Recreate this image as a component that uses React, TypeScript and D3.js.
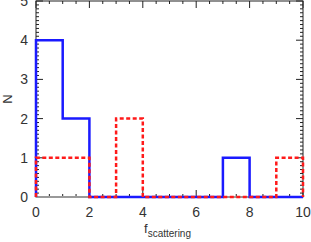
import React, { useEffect, useRef } from "react";
import * as d3 from "d3";

const binEdges = [0, 1, 2, 3, 4, 5, 6, 7, 8, 9, 10];
const blueCounts = [4, 2, 0, 0, 0, 0, 0, 1, 0, 0];
const redCounts = [1, 1, 0, 2, 0, 0, 0, 0, 0, 1];
const xTicks = [0, 2, 4, 6, 8, 10];
const yTicks = [0, 1, 2, 3, 4, 5];

const App = () => {
  const svgRef = useRef<SVGSVGElement>(null);

  useEffect(() => {
    const W = 311,
      H = 242;
    const margin = { top: 1, right: 8, bottom: 45, left: 36 };
    const width = W - margin.left - margin.right,
      height = H - margin.top - margin.bottom;

    const root = d3.select(svgRef.current).attr("width", W).attr("height", H);
    root.selectAll("*").remove();
    const svg = root
      .append("g")
      .attr("transform", `translate(${margin.left},${margin.top})`);

    const x = d3.scaleLinear().domain([0, 10]).range([0, width]);
    const y = d3.scaleLinear().domain([0, 5]).range([height, 0]);

    const font = "'Liberation Sans', Arial, sans-serif";
    const axisColor = "#222";

    // minor + major ticks, pointing inward on all four sides
    const xMinor = d3.range(0, 10.001, 0.5);
    const yMinor = d3.range(0, 5.001, 0.1);
    const ticks = svg.append("g").attr("stroke", axisColor).attr("stroke-width", 1);
    xMinor.forEach((v) => {
      const major = xTicks.includes(Math.round(v * 10) / 10);
      const len = major ? 7 : 3;
      ticks.append("line").attr("x1", x(v)).attr("x2", x(v)).attr("y1", height).attr("y2", height - len);
      ticks.append("line").attr("x1", x(v)).attr("x2", x(v)).attr("y1", 0).attr("y2", len);
    });
    yMinor.forEach((v) => {
      const major = Math.abs(v - Math.round(v)) < 1e-6;
      const len = major ? 7 : 3;
      ticks.append("line").attr("y1", y(v)).attr("y2", y(v)).attr("x1", 0).attr("x2", len);
      ticks.append("line").attr("y1", y(v)).attr("y2", y(v)).attr("x1", width).attr("x2", width - len);
    });

    svg
      .append("rect")
      .attr("width", width)
      .attr("height", height)
      .attr("fill", "none")
      .attr("stroke", axisColor)
      .attr("stroke-width", 1);
    svg
      .append("line")
      .attr("x1", 0)
      .attr("x2", width)
      .attr("y1", height)
      .attr("y2", height)
      .attr("stroke", "#999")
      .attr("stroke-width", 2);

    const stepPoints = (counts: number[]) => {
      const pts: [number, number][] = [[binEdges[0], 0]];
      counts.forEach((c, i) => {
        pts.push([binEdges[i], c]);
        pts.push([binEdges[i + 1], c]);
      });
      pts.push([binEdges[binEdges.length - 1], 0]);
      return pts;
    };
    const line = d3
      .line<[number, number]>()
      .x((d) => x(d[0]))
      .y((d) => y(d[1]));

    svg
      .append("path")
      .attr("d", line(stepPoints(blueCounts)))
      .attr("fill", "none")
      .attr("stroke", "#1a1aff")
      .attr("stroke-width", 2.5);
    svg
      .append("path")
      .attr("d", line(stepPoints(redCounts)))
      .attr("fill", "none")
      .attr("stroke", "#ff1a1a")
      .attr("stroke-width", 2.5)
      .attr("stroke-dasharray", "4,2.5");

    svg
      .selectAll(".xl")
      .data(xTicks)
      .enter()
      .append("text")
      .attr("x", (d) => x(d))
      .attr("y", height + 20)
      .attr("text-anchor", "middle")
      .attr("font-family", font)
      .attr("font-size", 14)
      .attr("fill", "#333")
      .text((d) => d);
    svg
      .selectAll(".yl")
      .data(yTicks)
      .enter()
      .append("text")
      .attr("x", -8)
      .attr("y", (d) => y(d) + 5)
      .attr("text-anchor", "end")
      .attr("font-family", font)
      .attr("font-size", 14)
      .attr("fill", "#333")
      .text((d) => d);

    const xl = svg
      .append("text")
      .attr("x", width / 2 - 2)
      .attr("y", height + 36)
      .attr("text-anchor", "middle")
      .attr("font-family", font)
      .attr("font-size", 13)
      .attr("fill", "#333");
    xl.append("tspan").text("f");
    xl.append("tspan").attr("dy", 4).attr("font-size", 10).text("scattering");

    svg
      .append("text")
      .attr("transform", `translate(-24,${height / 2}) rotate(-90)`)
      .attr("text-anchor", "middle")
      .attr("font-family", font)
      .attr("font-size", 13)
      .attr("fill", "#333")
      .text("N");
  }, []);

  return <svg ref={svgRef} style={{ position: "absolute", left: 0, top: 0 }}></svg>;
};

export default App;
